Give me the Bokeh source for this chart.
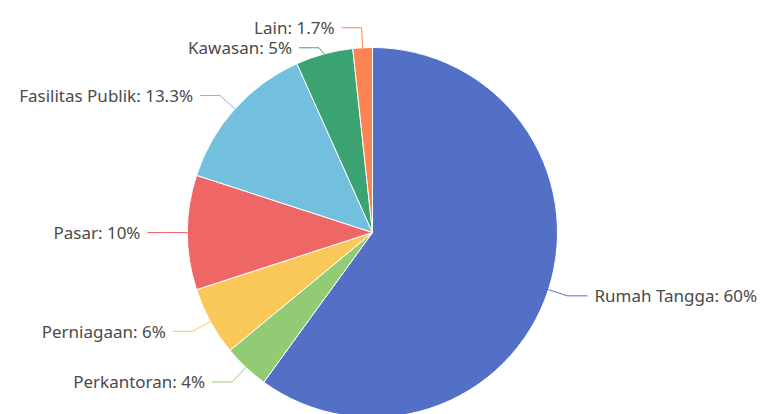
import math
from bokeh.plotting import figure
from bokeh.models import ColumnDataSource, Range1d
from bokeh.core.properties import value
from bokeh.embed import file_html
from bokeh.resources import INLINE

# ---- data ----
categories = ["Rumah Tangga", "Perkantoran", "Perniagaan", "Pasar",
              "Fasilitas Publik", "Kawasan", "Lain"]
shares = [60, 4, 6, 10, 13.3, 5, 1.7]
labels = ["Rumah Tangga: 60%", "Perkantoran: 4%", "Perniagaan: 6%", "Pasar: 10%",
          "Fasilitas Publik: 13.3%", "Kawasan: 5%", "Lain: 1.7%"]
colors = ["#5470c6", "#91cc75", "#fac858", "#ee6666", "#73c0de", "#3ba272", "#fc8452"]

W, H = 772, 414
CX, CY, R = 372, 182, 185
LEN1, LEN2, GAP = 20, 20, 7
MIN_SPACING = 20

total = sum(shares)
starts, ends, mids = [], [], []
acc = 0.0
for s in shares:
    f0 = acc / total
    acc += s
    f1 = acc / total
    starts.append(math.pi / 2 - 2 * math.pi * f0)
    ends.append(math.pi / 2 - 2 * math.pi * f1)
    mids.append(math.pi / 2 - 2 * math.pi * (f0 + f1) / 2)

p = figure(width=W, height=H, output_backend="svg", toolbar_location=None,
           x_range=Range1d(0, W), y_range=Range1d(0, H), min_border=0)
p.axis.visible = False
p.grid.visible = False
p.outline_line_color = None
p.background_fill_color = "white"
p.border_fill_color = "white"

src = ColumnDataSource(dict(start=starts, end=ends, color=colors, cat=categories))
p.wedge(x=CX, y=CY, radius=R, start_angle="start", end_angle="end",
        direction="clock", fill_color="color", line_color="white", line_width=1,
        source=src)

# label geometry
info = []
for i, a in enumerate(mids):
    ex, ey = CX + R * math.cos(a), CY + R * math.sin(a)
    kx, ky = CX + (R + LEN1) * math.cos(a), CY + (R + LEN1) * math.sin(a)
    side = 1 if math.cos(a) >= 0 else -1
    info.append(dict(i=i, ex=ex, ey=ey, kx=kx, ky=ky, side=side))

# simple overlap avoidance per side (top to bottom)
for side in (1, -1):
    items = sorted([d for d in info if d["side"] == side], key=lambda d: -d["ky"])
    prev = None
    for d in items:
        if prev is not None and prev - d["ky"] < MIN_SPACING:
            d["ky"] = prev - MIN_SPACING
        prev = d["ky"]

xs, ys, lc = [], [], []
tx, ty, tt, ta = [], [], [], []
for d in info:
    endx = d["kx"] + d["side"] * LEN2
    xs.append([d["ex"], d["kx"], endx])
    ys.append([d["ey"], d["ky"], d["ky"]])
    lc.append(colors[d["i"]])
    tx.append(endx + d["side"] * GAP)
    ty.append(d["ky"])
    tt.append(labels[d["i"]])
    ta.append("left" if d["side"] == 1 else "right")

p.multi_line(xs=xs, ys=ys, line_color=lc, line_width=1)
tsrc = ColumnDataSource(dict(x=tx, y=ty, text=tt, align=ta))
p.text(x="x", y="y", text="text", text_align="align", text_baseline="middle",
       text_font_size="17px", text_color="#4a4a4a", text_font=value("Noto Sans"),
       source=tsrc)

open("out.html", "w").write(file_html(p, INLINE))
